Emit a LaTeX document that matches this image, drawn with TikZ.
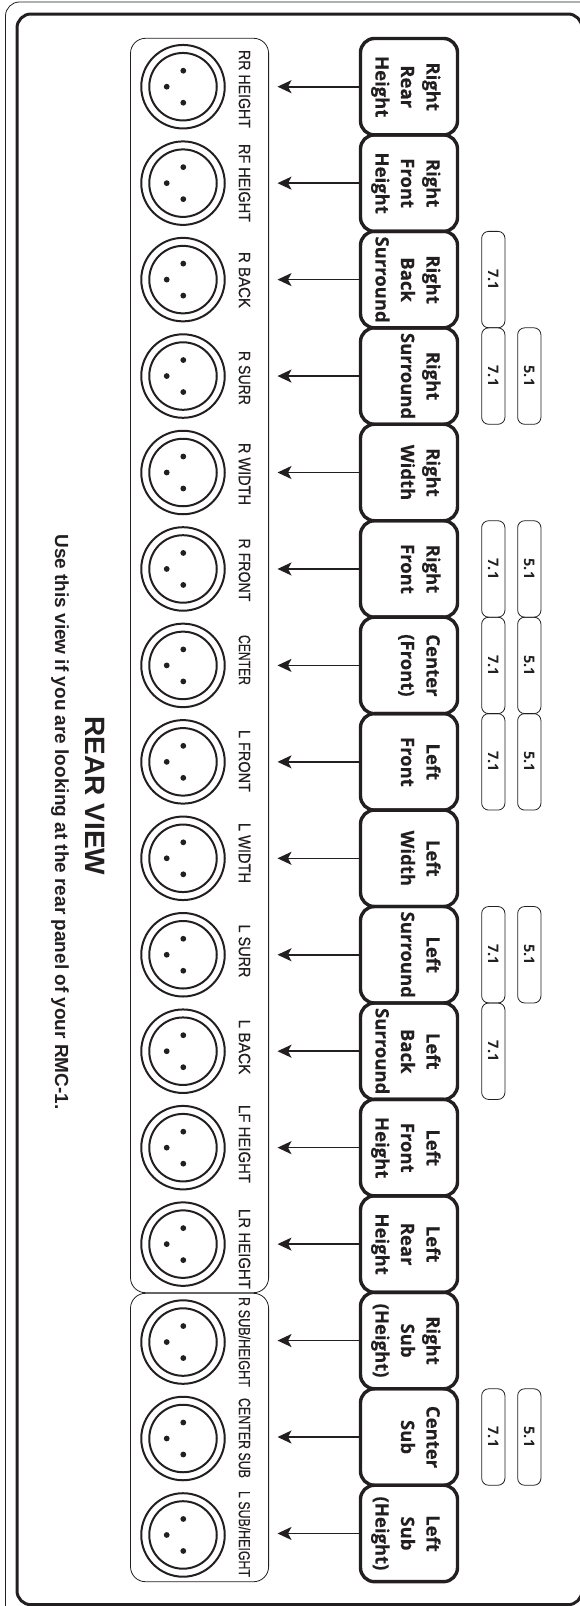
\documentclass[tikz,border=0pt]{standalone}
\usepackage{fontspec}
\usepackage{graphicx}
\usetikzlibrary{arrows.meta}
\newfontfamily\btnfont[BoldFeatures={FakeBold=0.25}]{Open Sans}
\newfontfamily\tagfont{Open Sans}
\newfontfamily\lblfont[FakeBold=0.4]{Liberation Sans}
\newfontfamily\ttlfont{Liberation Sans}
\definecolor{ink}{HTML}{231F20}
\newcommand\btnstrut{\rule[-4.75pt]{0pt}{25.5pt}}
\newcommand\btnlines[3]{\btnstrut #1\\\btnstrut #2\\\btnstrut #3}
\tikzset{
  thinframe/.style={draw=ink,line width=0.8pt,rounded corners=14pt},
  thickframe/.style={draw=ink,line width=3pt,rounded corners=14pt},
  panel/.style={draw=ink,line width=0.8pt,rounded corners=15pt},
  btn/.style={draw=ink,line width=3.4pt,rounded corners=14pt,rotate=-90,minimum width=96.45pt,minimum height=97pt,inner sep=0pt,outer sep=0pt,align=center,text=ink,font=\btnfont\bfseries\fontsize{18.5}{25.5}\selectfont},
  tag/.style={draw=ink,line width=0.8pt,rounded corners=7pt,rotate=-90,minimum width=96.45pt,minimum height=23.3pt,inner sep=0pt,outer sep=0pt,text=ink,font=\tagfont\bfseries\fontsize{14.5}{16}\selectfont},
  ringout/.style={circle,draw=ink,line width=2pt,minimum size=83.5pt,inner sep=0pt,outer sep=0pt},
  ringin/.style={circle,draw=ink,line width=2pt,minimum size=67.5pt,inner sep=0pt,outer sep=0pt},
  pin/.style={circle,fill=ink,minimum size=5.8pt,inner sep=0pt,outer sep=0pt},
  jack/.style={rotate=-90,inner sep=0pt,outer sep=0pt,text=ink,font=\lblfont},
  feed/.style={draw=ink,line width=1.6pt,-{Stealth[length=14pt,width=13pt,inset=3.5pt]}},
  title/.style={rotate=-90,inner sep=0pt,text=ink},
}
\begin{document}
\begin{tikzpicture}[x=1pt,y=-1pt]
\clip (0,0) rectangle (580,1606);
\path[thinframe] (5.5,2) rectangle (620,1640);
\path[thickframe] (17,14) rectangle (582,1604.7);
\path[panel] (130.5,38.3) rectangle (268.6,1292.7);
\path[panel] (130.5,1293.3) rectangle (268.6,1581.7);
% buttons, connectors and arrows
\foreach \k/\off/\a/\b/\c in {
 1/0/Right/Rear/Height,
 2/0/Right/Front/Height,
 3/0/Right/Back/Surround,
 4/0/Right/Surround/{},
 5/0/Right/Width/{},
 6/0/Right/Front/{},
 7/0/Center/(Front)/{},
 8/0/Left/Front/{},
 9/0/Left/Width/{},
 10/0/Left/Surround/{},
 11/0/Left/Back/Surround,
 12/0/Left/Front/Height,
 13/0/Left/Rear/Height,
 14/1.5/Right/Sub/(Height),
 15/1.5/Center/Sub/{},
 16/1.5/Left/Sub/(Height)}{
  \pgfmathsetmacro\yy{86.7+96.45*(\k-1)}
  \pgfmathsetmacro\yc{\yy+\off}
  \node[btn] (b\k) at (409,\yy) {\btnlines{\a}{\b}{\c}};
  \node[ringout] (ro\k) at (183,\yc) {};
  \node[ringin] (ri\k) at (183,\yc) {};
  \node[pin] (pa\k) at (183.3,\yc-16) {};
  \node[pin] (pb\k) at (183.3,\yc+16) {};
  \node[pin] (pc\k) at (166.7,\yc) {};
  \coordinate (t\k) at (277.5,\yy);
  \draw[feed] (b\k.south) -- (t\k);
}
% jack labels
\foreach \k/\cy/\w/\txt in {
 1/89/78/RR HEIGHT,
 2/183/78/RF HEIGHT,
 3/280/56/R BACK,
 4/378/54/R SURR,
 5/474/62/R WIDTH,
 6/570/63/R FRONT,
 7/660/50/CENTER,
 8/761/62/L FRONT,
 9/853/60/L WIDTH,
 10/951/53/L SURR,
 11/1047/55/L BACK,
 12/1144/78/LF HEIGHT,
 13/1249/80/LR HEIGHT,
 14/1342/90/{R SUB/HEIGHT},
 15/1438/80/CENTER SUB,
 16/1534/86/{L SUB/HEIGHT}}{
  \node[jack] (l\k) at (244.5,\cy) {\resizebox{\w pt}{11.5pt}{\txt}};
}
% mode tags
\foreach \k in {3,4,6,7,8,10,11,15}{
  \pgfmathsetmacro\yy{86.7+96.45*(\k-1)}
  \node[tag] (s\k) at (493.3,\yy) {\raisebox{-1.5pt}{7.1}};
}
\foreach \k in {4,6,7,8,10,15}{
  \pgfmathsetmacro\yy{86.7+96.45*(\k-1)}
  \node[tag] (f\k) at (529.3,\yy) {5.1};
}
\node[title,font=\ttlfont\bfseries\fontsize{28}{30}\selectfont] (rv) at (95,796) {REAR VIEW};
\node[title,font=\ttlfont\bfseries\fontsize{19}{22}\selectfont] (use) at (60,822) {Use this view if you are looking at the rear panel of your RMC-1.};
\end{tikzpicture}
\end{document}
